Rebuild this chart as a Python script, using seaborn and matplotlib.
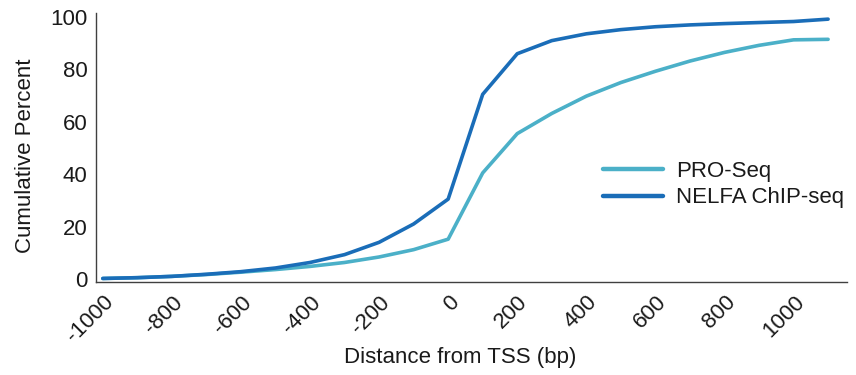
import numpy as np
import pandas as pd
import matplotlib
matplotlib.use("Agg")
import matplotlib.pyplot as plt
import seaborn as sns

# distance bins (bp) and cumulative percentages
distance = [-1000, -900, -800, -700, -600, -500, -400, -300, -200, -100, 0,
            100, 200, 300, 400, 500, 600, 700, 800, 900, 1000, 1100]
pro_seq = [0.2, 0.5, 1.0, 1.7, 2.6, 3.6, 4.8, 6.3, 8.4, 11.2, 15.2,
           40.5, 55.5, 63.2, 69.8, 75.0, 79.3, 83.2, 86.5, 89.2, 91.3, 91.5]
nelfa_chip = [0.2, 0.5, 1.0, 1.8, 2.8, 4.2, 6.3, 9.3, 14.0, 21.0, 30.5,
              70.5, 86.0, 91.0, 93.6, 95.2, 96.3, 97.0, 97.5, 97.9, 98.3, 99.2]
series_names = ["PRO-Seq", "NELFA ChIP-seq"]
x_ticks = [-1000, -800, -600, -400, -200, 0, 200, 400, 600, 800, 1000]
y_ticks = [0, 20, 40, 60, 80, 100]

df = pd.concat([
    pd.DataFrame({"Distance": distance, "Percent": pro_seq, "Series": series_names[0]}),
    pd.DataFrame({"Distance": distance, "Percent": nelfa_chip, "Series": series_names[1]}),
])

sns.set_theme(style="white")
plt.rcParams["font.family"] = ["Liberation Sans", "DejaVu Sans"]
txt = "#1a1a1a"

fig = plt.figure(figsize=(8.56, 3.75), dpi=100)
ax = fig.add_axes([0.112, 0.248, 0.878, 0.717])

palette = {"PRO-Seq": "#4bb0c8", "NELFA ChIP-seq": "#1a6db8"}
sns.lineplot(data=df, x="Distance", y="Percent", hue="Series", palette=palette,
             linewidth=2.6, ax=ax)

ax.set_xlim(-1020, 1156)
ax.set_ylim(-1.15, 101.5)
ax.set_xticks(x_ticks)
ax.set_yticks(y_ticks)
ax.set_xticklabels([str(v) for v in x_ticks], rotation=45, ha="right",
                   rotation_mode="anchor", fontsize=16, color=txt)
ax.set_yticklabels([str(v) for v in y_ticks], fontsize=16, color=txt)
ax.tick_params(axis="both", length=0)
ax.tick_params(axis="y", pad=6)
ax.tick_params(axis="x", pad=7)

for s in ["top", "right"]:
    ax.spines[s].set_visible(False)
for s in ["left", "bottom"]:
    ax.spines[s].set_color("#404040")
    ax.spines[s].set_linewidth(1.0)

ax.set_xlabel("Distance from TSS (bp)", fontsize=16, color=txt)
ax.set_ylabel("Cumulative Percent", fontsize=16, color=txt)
ax.xaxis.set_label_coords(0.485, -0.24)
ax.yaxis.set_label_coords(-0.079, 0.468)

handles, labels = ax.get_legend_handles_labels()
leg = ax.legend(handles, labels, loc="upper left", bbox_to_anchor=(0.704, 0.571),
                bbox_transform=fig.transFigure, frameon=False, fontsize=16,
                handlelength=2.7, handletextpad=0.6, labelspacing=0.25,
                borderpad=0, borderaxespad=0)
for line in leg.get_lines():
    line.set_linewidth(3.2)
for t in leg.get_texts():
    t.set_color(txt)

fig.savefig("out.png", dpi=100)
